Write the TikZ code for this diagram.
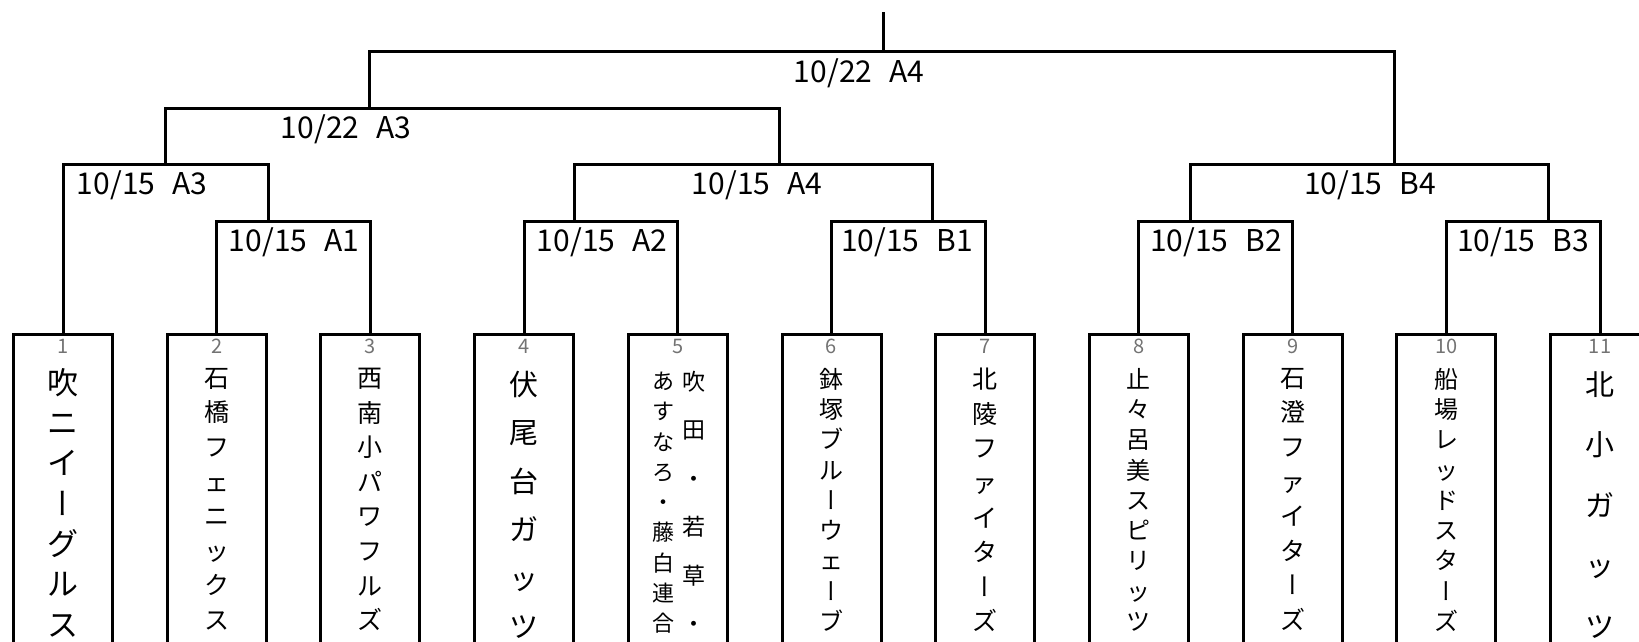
\documentclass[tikz,border=0pt]{standalone}
\usepackage{fontspec}
\setmainfont{Noto Sans CJK JP}
\newfontfamily\vertfont[RawFeature=+vert]{Noto Sans CJK JP}
\newfontfamily\datefont[WordSpace=2.5]{Noto Sans CJK JP}
\usepackage{xcolor}
\usetikzlibrary{positioning}
\newcommand{\namesize}[2]{\fontsize{#1}{#2}\selectfont}
\newcommand{\chouon}{{\vertfont ー}}
\tikzset{
    teambox/.style={
           rectangle,
           draw=black, line width=3pt,
           minimum width=99pt,
           minimum height=400pt,
           outer sep=0pt,
           },
    seednum/.style={
           text=black!55,
           font=\fontsize{20}{20}\selectfont,
           inner sep=0pt,
           },
    teamname/.style={
           align=center,
           inner sep=0pt,
           },
    datelabel/.style={
           anchor=base,
           inner sep=0pt,
           font=\datefont\fontsize{30}{30}\selectfont,
           },
    bracket/.style={
           line width=3pt,
           },
}

\begin{document}
\begin{tikzpicture}[x=1pt, y=-1pt, node distance=54.7pt]
	\useasboundingbox (0,0) rectangle (1639,642);
	\clip (0,0) rectangle (1639,642);

	% teams
	\node[teambox, anchor=north] (t1) at (63,334) {};
	\node[teambox, right=of t1] (t2) {};
	\node[teambox, right=of t2] (t3) {};
	\node[teambox, right=of t3] (t4) {};
	\node[teambox, right=of t4] (t5) {};
	\node[teambox, right=of t5] (t6) {};
	\node[teambox, right=of t6] (t7) {};
	\node[teambox, right=of t7] (t8) {};
	\node[teambox, right=of t8] (t9) {};
	\node[teambox, right=of t9] (t10) {};
	\node[teambox, right=of t10] (t11) {};

	\node[seednum, below=5pt of t1.north] (n1) {1};
	\node[seednum, below=5pt of t2.north] (n2) {2};
	\node[seednum, below=5pt of t3.north] (n3) {3};
	\node[seednum, below=5pt of t4.north] (n4) {4};
	\node[seednum, below=5pt of t5.north] (n5) {5};
	\node[seednum, below=5pt of t6.north] (n6) {6};
	\node[seednum, below=5pt of t7.north] (n7) {7};
	\node[seednum, below=5pt of t8.north] (n8) {8};
	\node[seednum, below=5pt of t9.north] (n9) {9};
	\node[seednum, below=5pt of t10.north] (n10) {10};
	\node[seednum, below=5pt of t11.north] (n11) {11};

	\node[teamname, font=\namesize{31}{40.3}, below=34pt of t1.north] (m1)
		{吹\\ニ\\イ\\\chouon\\グ\\ル\\ス};
	\node[teamname, font=\namesize{25}{34.6}, below=34pt of t2.north] (m2)
		{石\\橋\\フ\\ェ\\ニ\\ッ\\ク\\ス};
	\node[teamname, font=\namesize{25}{34.6}, below=34pt of t3.north] (m3)
		{西\\南\\小\\パ\\ワ\\フ\\ル\\ズ};
	\node[teamname, font=\namesize{29}{48.4}, below=37pt of t4.north] (m4)
		{伏\\尾\\台\\ガ\\ッ\\ツ};
	\node[teamname, font=\namesize{23}{48.4}, below=37pt of t5.north, xshift=16pt] (m5a)
		{吹\\田\\・\\若\\草\\・};
	\node[teamname, font=\namesize{22}{30.25}, below=38pt of t5.north, xshift=-14pt] (m5b)
		{あ\\す\\な\\ろ\\・\\藤\\白\\連\\合};
	\node[teamname, font=\namesize{24}{30.25}, below=34pt of t6.north] (m6)
		{鉢\\塚\\ブ\\ル\\\chouon\\ウ\\ェ\\\chouon\\ブ};
	\node[teamname, font=\namesize{25}{34.6}, below=34pt of t7.north] (m7)
		{北\\陵\\フ\\ァ\\イ\\タ\\\chouon\\ズ};
	\node[teamname, font=\namesize{24}{30.25}, below=34pt of t8.north] (m8)
		{止\\々\\呂\\美\\ス\\ピ\\リ\\ッ\\ツ};
	\node[teamname, font=\namesize{25}{34.6}, below=34pt of t9.north] (m9)
		{石\\澄\\フ\\ァ\\イ\\タ\\\chouon\\ズ};
	\node[teamname, font=\namesize{24}{30.25}, below=34pt of t10.north] (m10)
		{船\\場\\レ\\ッ\\ド\\ス\\タ\\\chouon\\ズ};
	\node[teamname, font=\namesize{29}{60.5}, below=37pt of t11.north] (m11)
		{北\\小\\ガ\\ッ\\ツ};

	% bracket
	\coordinate (a1) at (268,221);
	\coordinate (a2) at (574,221);
	\coordinate (b1) at (932,221);
	\coordinate (b2) at (1190,221);
	\coordinate (b3) at (1548,221);
	\coordinate (a3) at (165,164);
	\coordinate (a4) at (779,164);
	\coordinate (b4) at (1394,164);
	\coordinate (semi) at (369,108);
	\coordinate (final) at (883,52);
	\coordinate (top) at (883,12);

	\draw[bracket] (t2.north) |- (a1) -| (t3.north);
	\draw[bracket] (t4.north) |- (a2) -| (t5.north);
	\draw[bracket] (t6.north) |- (b1) -| (t7.north);
	\draw[bracket] (t8.north) |- (b2) -| (t9.north);
	\draw[bracket] (t10.north) |- (b3) -| (t11.north);
	\draw[bracket] (t1.north) |- (a3) -| (a1);
	\draw[bracket] (a2) |- (a4) -| (b1);
	\draw[bracket] (b2) |- (b4) -| (b3);
	\draw[bracket] (a3) |- (semi) -| (a4);
	\draw[bracket] (semi) |- (final) -| (b4);
	\draw[bracket] (final) -- (top);

	\node[datelabel] (da1) at (294,251) {10/15 A1};
	\node[datelabel] (da2) at (602,251) {10/15 A2};
	\node[datelabel] (db1) at (907,251) {10/15 B1};
	\node[datelabel] (db2) at (1216,251) {10/15 B2};
	\node[datelabel] (db3) at (1523,251) {10/15 B3};
	\node[datelabel] (da3) at (142,194) {10/15 A3};
	\node[datelabel] (da4) at (757,194) {10/15 A4};
	\node[datelabel] (db4) at (1370,194) {10/15 B4};
	\node[datelabel] (dsemi) at (346,138) {10/22 A3};
	\node[datelabel] (dfinal) at (859,82) {10/22 A4};
\end{tikzpicture}
\end{document}
